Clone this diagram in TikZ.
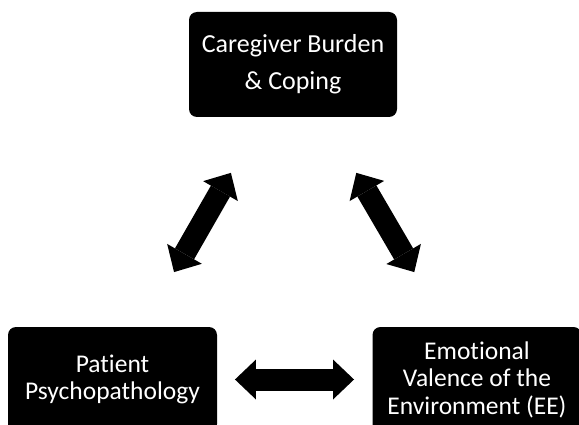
\documentclass[tikz,border=0pt]{standalone}
\usepackage{fontspec}
\setmainfont[Ligatures={NoCommon,NoRequired,NoContextual}]{Carlito}
\usetikzlibrary{arrows.meta,calc}
\begin{document}
\begin{tikzpicture}[x=1pt,y=-1pt,
  box/.style={fill=black, text=white, rounded corners=8pt, minimum width=209pt,
    minimum height=105pt, align=center, inner sep=0pt},
  boxfont/.style={font=\fontsize{25.5}{27.5}\selectfont},
  topfont/.style={font=\fontsize{26}{37}\selectfont},
  tipshape/.tip={Triangle[length=21pt,width=40pt,line width=0pt]},
  bigarrow/.style={line width=22pt, tipshape-tipshape}]
\useasboundingbox (0,0) rectangle (579,425);
\clip (0,0) rectangle (579,425);
\node[box, topfont, minimum width=208pt] (care) at (293,64.5) {Caregiver Burden\\\& Coping};
\node[box, boxfont] (pat) at (112.5,379.5) {Patient\\Psychopathology};
\node[box, boxfont] (emo) at (477,379.5) {Emotional\\Valence of the\\Environment (EE)};
\coordinate (l1) at ($(care)!0.344!(pat)$);
\coordinate (l2) at ($(care)!0.659!(pat)$);
\coordinate (r1) at ($(care)!0.344!(emo)$);
\coordinate (r2) at ($(care)!0.659!(emo)$);
\coordinate (h1) at ($(pat)!0.336!(emo)$);
\coordinate (h2) at ($(pat)!0.6626!(emo)$);
\draw[bigarrow] (l1) -- (l2);
\draw[bigarrow] (r1) -- (r2);
\draw[bigarrow] (h1) -- (h2);
\end{tikzpicture}
\end{document}
